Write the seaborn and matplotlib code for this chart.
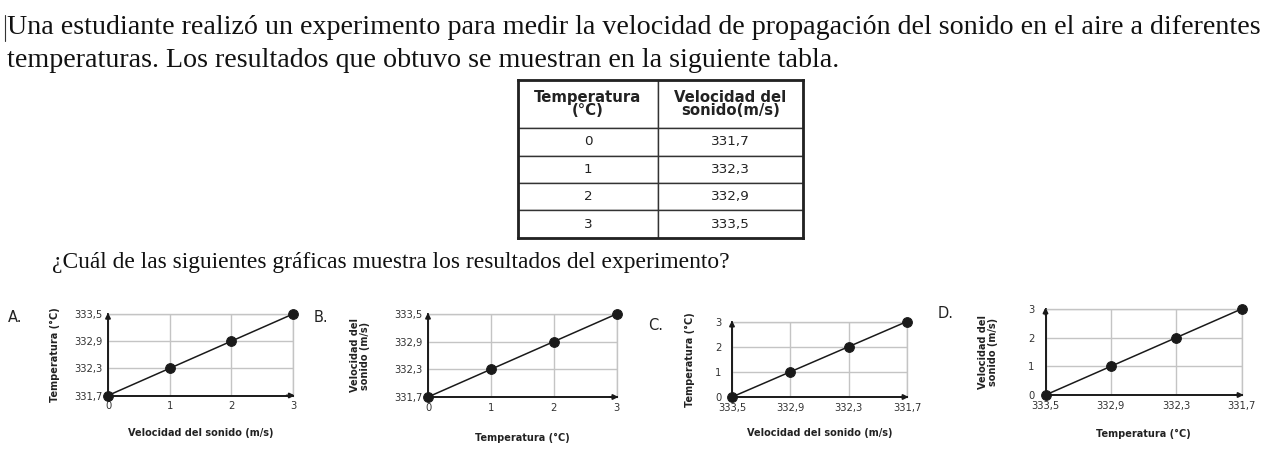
import pandas as pd
import seaborn as sns
import matplotlib.pyplot as plt
from matplotlib.lines import Line2D

# datos de la tabla
temperatura = [0, 1, 2, 3]
velocidad = [331.7, 332.3, 332.9, 333.5]
temp_labels = ["0", "1", "2", "3"]
vel_labels = ["331,7", "332,3", "332,9", "333,5"]
opciones = ["A.", "B.", "C.", "D."]
encabezado = ["Temperatura\n(°C)", "Velocidad del\nsonido(m/s)"]

sns.set_theme(style="white")
plt.rcParams['font.family'] = ['DejaVu Sans']

W, H = 1271, 454
fig = plt.figure(figsize=(W / 100, H / 100), dpi=100)


def px_axes(x0, y0, x1, y1):
    return fig.add_axes([x0 / W, 1 - y1 / H, (x1 - x0) / W, (y1 - y0) / H])


serif = ['Liberation Serif', 'DejaVu Serif']
fig.text(7 / W, 1 - 34 / H, "Una estudiante realizó un experimento para medir la velocidad de propagación del sonido en el aire a diferentes",
         family=serif, fontsize=20.15, va='baseline', color='#111111')
fig.text(7 / W, 1 - 67 / H, "temperaturas. Los resultados que obtuvo se muestran en la siguiente tabla.",
         family=serif, fontsize=20.15, va='baseline', color='#111111')
fig.add_artist(Line2D([5 / W, 5 / W], [1 - 15 / H, 1 - 41 / H], color='#333333', lw=0.8))
fig.text(52 / W, 1 - 268 / H, "¿Cuál de las siguientes gráficas muestra los resultados del experimento?",
         family=serif, fontsize=16.9, va='baseline', color='#111111')

# tabla
tab_ax = px_axes(518, 80, 803, 238)
tab_ax.set_xticks([])
tab_ax.set_yticks([])
for s in tab_ax.spines.values():
    s.set_color('#222222')
    s.set_linewidth(2)
filas = [[t, v] for t, v in zip(temp_labels, vel_labels)]
tabla = tab_ax.table(cellText=filas, colLabels=encabezado, cellLoc='center',
                     colWidths=[140 / 285, 145 / 285], bbox=[0, 0, 1, 1])
tabla.auto_set_font_size(False)
tabla.set_fontsize(9.7)
for (r, c), cell in tabla.get_celld().items():
    cell.set_linewidth(1.0)
    cell.set_edgecolor('#333333')
    cell.set_height(48 if r == 0 else 27.5)
    cell.get_text().set_color('#222222')
    if r == 0:
        cell.get_text().set_fontweight('bold')
        cell.get_text().set_fontsize(10.7)
        cell.get_text().set_linespacing(0.9)


def grafica(rect, x, y, xticks, xlabels, yticks, ylabels, xlabel, ylabel,
            ylab_x, xlab_y, letra, letra_xy, invertir=False, ypad=4):
    x0, y0, x1, y1 = rect
    ax = px_axes(*rect)
    df = pd.DataFrame({"x": x, "y": y})
    sns.lineplot(data=df, x="x", y="y", ax=ax, sort=False, color='#1a1a1a', lw=1.1,
                 marker='o', markersize=7, markeredgecolor='#1a1a1a', clip_on=False, zorder=5)
    ax.set_xticks(xticks, xlabels)
    ax.set_yticks(yticks, ylabels)
    if invertir:
        ax.set_xlim(max(xticks), min(xticks))
    else:
        ax.set_xlim(min(xticks), max(xticks))
    ax.set_ylim(min(yticks), max(yticks))
    ax.grid(True, color='#c4c4c4', lw=1)
    ax.tick_params(length=0, labelsize=7.2, labelcolor='#333333', pad=4)
    ax.tick_params(axis='y', pad=ypad)
    for s in ['top', 'right']:
        ax.spines[s].set_color('#c4c4c4')
        ax.spines[s].set_linewidth(1)
    for s in ['left', 'bottom']:
        ax.spines[s].set_color('#1a1a1a')
        ax.spines[s].set_linewidth(1.4)
    ax.annotate('', xy=(0, 1.05), xytext=(0, 0.9), xycoords='axes fraction',
                arrowprops=dict(arrowstyle='-|>', color='#1a1a1a', lw=1.4, mutation_scale=7))
    ax.annotate('', xy=(1.025, 0), xytext=(0.95, 0), xycoords='axes fraction',
                arrowprops=dict(arrowstyle='-|>', color='#1a1a1a', lw=1.4, mutation_scale=7))
    ax.set_xlabel(xlabel, fontsize=7, fontweight='bold', color='#222222')
    ax.set_ylabel(ylabel, fontsize=7, fontweight='bold', color='#222222', linespacing=1.0)
    ax.xaxis.set_label_coords(0.5, (y1 - xlab_y) / (y1 - y0))
    ax.yaxis.set_label_coords((ylab_x - x0) / (x1 - x0), 0.5)
    fig.text(letra_xy[0] / W, 1 - letra_xy[1] / H, letra, fontsize=10.5, va='center', color='#222222')
    return ax


grafica((108, 314, 293, 395.5), temperatura, velocidad, temperatura, temp_labels,
        velocidad, vel_labels, "Velocidad del sonido (m/s)", "Temperatura (°C)",
        60, 428, opciones[0], (8, 318))
grafica((428, 314, 616.5, 397), temperatura, velocidad, temperatura, temp_labels,
        velocidad, vel_labels, "Temperatura (°C)", "Velocidad del\nsonido (m/s)",
        370, 433, opciones[1], (314, 318))
grafica((732, 321.5, 907, 397), velocidad[::-1], temperatura, velocidad, vel_labels,
        temperatura, temp_labels, "Velocidad del sonido (m/s)", "Temperatura (°C)",
        695, 428, opciones[2], (648, 325), invertir=True, ypad=7.5)
grafica((1045.5, 309, 1241.5, 395), velocidad[::-1], temperatura, velocidad, vel_labels,
        temperatura, temp_labels, "Temperatura (°C)", "Velocidad del\nsonido (m/s)",
        998, 429, opciones[3], (938, 313), invertir=True, ypad=8)

fig.savefig("out.png", dpi=100)
